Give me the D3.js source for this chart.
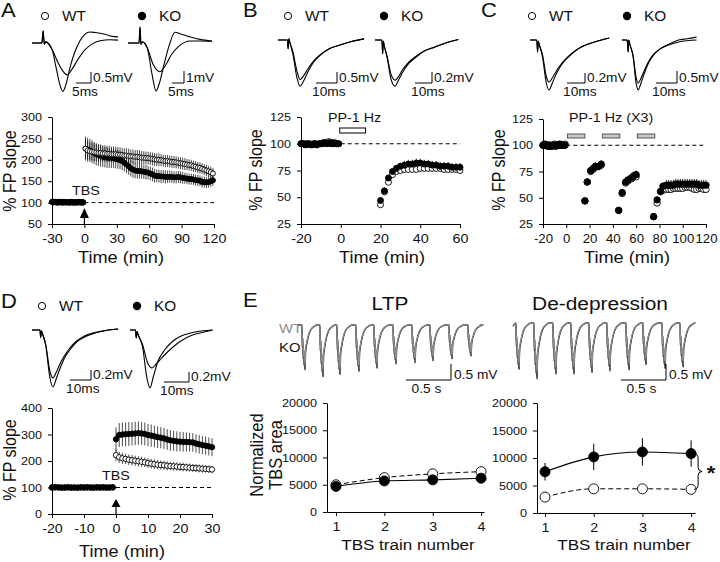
<!DOCTYPE html>
<html><head><meta charset="utf-8">
<script src="https://cdn.jsdelivr.net/npm/d3@7"></script>
<style>
body{margin:0;background:#fff;}
svg text{font-family:"Liberation Sans",Arial,Helvetica,sans-serif;fill:#111;font-weight:normal;}
</style></head><body>
<svg id="fig" width="720" height="562" style="background:#fff"></svg>
<script>
// ---------------- DATA ----------------
// Panel A (LTP, 30 min baseline, TBS at 0)
const aBaseT = [-30,-29,-28,-27,-26,-25,-24,-23,-22,-21,-20,-19,-18,-17,-16,-15,-14,-13,-12,-11,-10,-9,-8,-7,-6,-5,-4,-3,-2,-1];
const aBaseKO = [102,101,102,101,100,101,102,101,101,100,101,102,101,100,101,101,100,101,102,101,100,101,101,100,101,102,101,100,101,100];
const aBaseWT = [101,100,101,102,101,100,100,101,102,101,100,100,101,101,100,101,100,100,101,100,101,100,100,101,100,101,100,101,100,101];
const aPostT = [1,3,5,7,9,11,13,15,17,19,21,23,25,27,29,31,33,35,37,39,41,43,45,47,49,51,53,55,57,59,61,63,65,67,69,71,73,75,77,79,81,83,85,87,89,91,93,95,97,99,101,103,105,107,109,111,113,115,117,119];
const aPostKO = [226,224,222,219,216,213,211,209,207,206,205,204,204,203,202,201,199,197,193,189,185,180,177,175,174,174,173,172,171,170,168,166,163,162,162,161,161,160,160,160,160,159,159,160,159,158,157,156,155,155,154,152,152,151,148,148,147,148,150,152];
const aPostKOerr = [28,28,27,27,26,26,25,25,24,24,24,23,23,22,22,22,21,21,20,20,20,19,19,18,18,18,17,17,17,16,16,16,16,15,15,15,15,15,14,14,14,14,14,14,14,14,13,13,13,13,13,13,13,13,13,13,13,13,13,13];
const aPostWT = [226,222,220,219,218,217,216,216,215,215,214,214,213,213,213,212,212,211,210,210,209,208,208,207,207,206,205,205,204,204,203,202,201,200,200,199,198,197,197,196,195,195,194,193,192,191,190,189,188,187,185,184,182,181,179,177,175,173,171,168];
const aPostWTerr = [22,22,21,21,21,20,20,20,19,19,19,19,18,18,18,18,17,17,17,17,17,16,16,16,16,16,16,15,15,15,15,15,15,15,15,14,14,14,14,14,14,14,14,14,14,14,14,13,13,13,13,13,13,13,13,13,13,13,13,13];
const aXTicks = [-30,0,30,60,90,120];
const aYTicks = [50,100,150,200,250,300];

// Panel B (PP-1 Hz LTD)
const bBaseT = [-20,-19,-18,-17,-16,-15,-14,-13,-12,-11,-10,-9,-8,-7,-6,-5,-4,-3,-2,-1];
const bBaseKO = [100,100,99,100,100,99,99,100,99,100,100,100,101,100,101,100,101,100,100,100];
const bBaseWT = [100,100,100,99,100,99,100,100,99,100,100,101,101,101,102,101,100,101,100,100];
const bPostT = [20,22,24,26,28,30,32,34,36,38,40,42,44,46,48,50,52,54,56,58,60];
const bPostKO = [47,56,68,74,77,79,80,81,81,82,82,81,81,80,80,79,79,79,78,78,78];
const bPostKOerr = [3,3,3,3,3,3,4,4,4,4,4,4,4,4,4,4,4,4,4,4,4];
const bPostWT = [43,55,64,71,74,75,76,76,76,76,77,77,77,77,77,77,76,76,76,76,75];
const bPostWTerr = [2,2,2,2,2,3,3,3,3,3,3,3,3,3,3,3,3,3,3,3,3];
const bStim = [-0.5,12.5];
const bXTicks = [-20,0,20,40,60];
const bYTicks = [25,50,75,100,125];

// Panel C (PP-1 Hz x3)
const cBaseT = [-20,-19,-18,-17,-16,-15,-14,-13,-12,-11,-10,-9,-8,-7,-6,-5,-4,-3,-2,-1];
const cBaseKO = [100,100,101,100,100,99,100,99,100,100,100,99,100,100,101,100,100,100,100,100];
const cBaseWT = [100,101,100,100,99,100,100,100,99,100,101,100,100,100,100,101,100,100,100,101];
const cPostT = [16,18,21,23,25,28,30,45,48,51,53,56,58,60,75,78,81,83,86,88,90,92,94,96,98,100,102,104,106,108,110,112,114,116,118,120];
const cPostKO = [47,65,76,78,80,80,82,38,55,65,67,69,71,72,32,48,56,61,62,62,62,62,63,63,63,63,63,63,63,63,63,63,62,62,62,62];
const cPostKOerr = [2,3,3,3,4,4,4,3,3,3,4,4,4,4,3,3,4,4,5,5,5,5,5,5,5,5,5,5,5,5,5,5,5,5,5,5];
const cPostWT = [47,65,75,77,79,80,81,38,54,64,66,68,70,70,32,45,56,57,58,58,58,59,59,59,59,59,60,60,60,59,58,58,59,59,58,58];
const cPostWTerr = [2,2,3,3,3,3,3,2,3,3,3,3,3,3,2,3,3,3,3,3,3,3,3,3,3,3,3,3,3,3,3,3,3,3,3,3];
const cStimStart = [1,31,61];
const cStimEnd = [16,46,76];
const cXTicks = [-20,0,20,40,60,80,100,120];
const cYTicks = [25,50,75,100,125];

// Panel D (LTP after de-depression)
const dBaseT = [-20,-19,-18,-17,-16,-15,-14,-13,-12,-11,-10,-9,-8,-7,-6,-5,-4,-3,-2,-1];
const dBaseKO = [100,101,100,99,100,101,100,100,99,100,100,101,100,99,100,100,101,100,100,100];
const dBaseWT = [100,100,101,100,100,100,99,100,100,101,100,100,100,100,101,100,100,99,100,101];
const dPostT = [0,1,2,3,4,5,6,7,8,9,10,11,12,13,14,15,16,17,18,19,20,21,22,23,24,25,26,27,28,29,30];
const dPostKO = [282,298,300,301,302,303,304,305,304,302,298,296,293,290,288,285,281,278,276,274,273,272,272,271,270,266,263,260,258,255,252];
const dPostKOerr = [45,45,45,45,45,44,44,44,43,43,42,42,41,41,40,40,39,39,38,38,37,37,36,36,35,35,35,34,34,34,34];
const dPostWT = [222,214,210,208,205,203,201,199,197,195,192,190,188,186,185,184,182,181,180,179,178,177,176,175,174,173,172,171,170,169,168];
const dPostWTerr = [22,21,21,20,20,20,19,19,19,18,18,18,18,17,17,17,17,16,16,16,16,16,15,15,15,15,15,15,14,14,14];
const dXTicks = [-20,-10,0,10,20,30];
const dYTicks = [0,100,200,300,400];

// Panel E (TBS area)
const eTrain = [1,2,3,4];
const ltpWT = [5000,6300,7000,7400];
const ltpWTerr = [600,800,900,900];
const ltpKO = [4700,5700,5900,6200];
const ltpKOerr = [500,700,800,700];
const dedKO = [7500,10200,11100,10800];
const dedKOerr = [1600,2400,2500,2400];
const dedWT = [2900,4400,4400,4300];
const dedWTerr = [300,400,400,400];
const eYTicks = [0,5000,10000,15000,20000];

// Example traces: [time (ms), voltage (mV)]
const trAWT1 = [[0,0],[3.3,0],[3.7,0.55],[4.1,-0.05],[4.6,0.05],[6.7,-0.3],[8,-1.1],[9.3,-1.9],[10.3,-2.2],[11.3,-1.9],[12.7,-1.1],[14.3,-0.4],[16,0.1],[17.7,0.4],[19.3,0.5],[21,0.48],[24.3,0.4],[26.7,0.3],[28.7,0.28]];
const trAWT2 = [[0,0],[3.3,0],[3.7,0.55],[4.1,-0.05],[4.6,0.05],[6.7,-0.3],[8.7,-0.9],[10.7,-1.35],[11.7,-1.45],[13.3,-1.2],[15.3,-0.75],[17.7,-0.3],[20,-0.05],[22.7,0.1],[26,0.15],[28.7,0.13]];
const trAKO1 = [[0,0],[4.6,0],[5,1.33],[5.4,-0.1],[6,0.1],[8,-0.4],[10,-2.6],[11.7,-4.0],[13,-3.4],[15,-1.8],[17,-0.3],[19.6,0.9],[22,0.75],[26,0.5],[30,0.3],[35,0.17]];
const trAKO2 = [[0,0],[4.6,0],[5,1.33],[5.4,-0.1],[6,0.1],[8,-0.4],[10.5,-1.8],[13.3,-2.4],[15.5,-1.9],[18,-1.0],[21,-0.3],[26,0.17],[30,0.17],[35,0.15]];
const trBWT1 = [[0,0],[4.5,0],[4.8,-0.4],[5.2,0.05],[5.6,-0.1],[7,-0.6],[9,-1.7],[10.5,-2.1],[12,-1.9],[14,-1.5],[17,-1.0],[20,-0.7],[24,-0.42],[29.5,-0.23],[35,-0.07],[41,0.05]];
const trBWT2 = [[0,0],[4.5,0],[4.8,-0.4],[5.2,0.05],[5.6,-0.1],[7,-0.5],[9,-1.4],[10.5,-1.8],[12,-1.65],[14,-1.35],[17,-0.95],[20,-0.68],[24,-0.42],[29.5,-0.23],[35,-0.07],[41,0.05]];
const trBKO1 = [[0,0],[3.8,0],[4.2,-0.05],[4.5,-0.25],[4.9,-0.02],[5.4,-0.1],[7,-0.3],[9.5,-0.72],[11.8,-0.84],[13.5,-0.75],[16,-0.6],[20,-0.42],[23.5,-0.33],[29,-0.2],[35,-0.13],[42,-0.05],[49,0.01]];
const trBKO2 = [[0,0],[3.8,0],[4.2,-0.05],[4.5,-0.25],[4.9,-0.02],[5.4,-0.1],[7,-0.28],[9.5,-0.63],[11.8,-0.73],[13.5,-0.68],[16,-0.55],[20,-0.4],[23.5,-0.31],[29,-0.2],[35,-0.13],[42,-0.05],[49,0.01]];
const trCWT1 = [[0,0],[3.6,0],[3.9,-0.05],[4.2,-0.24],[4.6,-0.02],[5.2,-0.1],[7,-0.35],[9,-0.85],[10.6,-1.0],[12.5,-0.85],[15,-0.65],[18,-0.47],[21,-0.35],[25,-0.22],[29,-0.13],[35,-0.05],[44,0.04]];
const trCWT2 = [[0,0],[3.6,0],[3.9,-0.05],[4.2,-0.24],[4.6,-0.02],[5.2,-0.1],[7,-0.3],[9,-0.72],[10.6,-0.84],[12.5,-0.75],[15,-0.6],[18,-0.45],[21,-0.34],[25,-0.22],[29,-0.13],[35,-0.05],[44,0.04]];
const trCKO1 = [[0,0],[2.3,0],[2.6,-0.1],[2.9,-0.5],[3.2,0],[3.8,-0.2],[5.3,-0.7],[6.7,-1.8],[7.7,-2.08],[9,-1.8],[11,-1.3],[13,-0.9],[15,-0.63],[18,-0.38],[21.8,-0.2],[27,0.0],[31,0.05],[35.5,0.12]];
const trCKO2 = [[0,0],[2.3,0],[2.6,-0.1],[2.9,-0.5],[3.2,0],[3.8,-0.2],[5.3,-0.65],[6.7,-1.55],[7.7,-1.8],[9,-1.6],[11,-1.2],[13,-0.85],[15,-0.6],[18,-0.38],[21.8,-0.22],[27,-0.08],[31,-0.03],[35.5,0.0]];
const trDWT1 = [[0,0],[3.8,0],[4.1,-0.15],[4.5,-0.02],[5,-0.08],[6.5,-0.3],[8.5,-0.95],[10,-1.14],[11.5,-0.98],[14,-0.7],[16,-0.52],[18,-0.4],[21,-0.25],[25,-0.14],[30,-0.06],[35,-0.01],[41,0.02]];
const trDWT2 = [[0,0],[3.8,0],[4.1,-0.15],[4.5,-0.02],[5,-0.08],[6.5,-0.28],[8.5,-0.82],[10,-0.96],[11.5,-0.85],[14,-0.62],[16,-0.48],[18,-0.36],[21,-0.23],[25,-0.12],[30,-0.05],[35,-0.01],[41,0.02]];
const trDKO1 = [[0,0],[2.2,0],[2.5,-0.16],[2.8,-0.03],[3.3,-0.1],[5,-0.33],[6.7,-0.94],[8,-1.16],[9.3,-0.94],[11,-0.65],[14,-0.39],[17,-0.23],[20,-0.13],[25,-0.05],[33,0]];
const trDKO2 = [[0,0],[2.2,0],[2.5,-0.16],[2.8,-0.03],[3.3,-0.1],[5,-0.29],[7,-0.65],[8.8,-0.76],[10.5,-0.68],[12.5,-0.57],[14,-0.49],[17,-0.35],[20,-0.23],[25,-0.1],[28,-0.06],[33,0]];

// TBS burst traces (panel E): burst onsets (s), peak amplitudes (mV)
const burstShape = [[0,0],[0.004,-0.5],[0.009,-0.3],[0.014,-0.75],[0.019,-0.55],[0.024,-0.9],[0.029,-0.7],[0.034,-1],[0.04,-0.6],[0.055,-0.4],[0.075,-0.22],[0.1,-0.1],[0.13,-0.04],[0.17,0]];
const ltpOnsets = [0.044,0.244,0.433,0.644,0.844,1.056,1.267,1.467,1.678,1.889];
const ltpAmpKO = [1.40,1.62,1.55,1.45,1.35,1.22,1.18,1.12,1.06,0.97];
const ltpAmpWT = [1.30,1.50,1.45,1.36,1.27,1.15,1.12,1.05,1.00,0.92];
const dedOnsets = [0.033,0.233,0.444,0.644,0.844,1.044,1.256,1.444,1.656,1.856];
const dedAmpKO = [1.45,1.75,1.60,1.60,1.55,1.50,1.47,1.30,1.42,1.38];
const dedAmpWT = [1.35,1.60,1.50,1.48,1.45,1.40,1.36,1.20,1.30,1.28];

// ---------------- DRAWING ----------------
const SX = 1.1;
const FONT = '"Liberation Sans", Arial, Helvetica, sans-serif';
const svg = d3.select("#fig");

function txt(x, y, s, size, o = {}) {
  const t = svg.append("text")
    .attr("transform", `translate(${x},${y}) scale(${SX},1)` + (o.rot ? ` rotate(${o.rot})` : ""))
    .attr("text-anchor", o.anchor || "start")
    .style("font-size", size + "px")
    .text(s);
  if (o.fill) t.style("fill", o.fill);
  if (o.weight) t.style("font-weight", o.weight);
  return t;
}

function drawAxes(xs, ys, xt, yt, xfs, yfs) {
  const xb = ys.range()[0], yl = xs.range()[0];
  const gx = svg.append("g").attr("transform", `translate(0,${xb})`)
    .call(d3.axisBottom(xs).tickValues(xt).tickSize(4).tickSizeOuter(0).tickPadding(6).tickFormat(d => String(d)));
  const gy = svg.append("g").attr("transform", `translate(${yl},0)`)
    .call(d3.axisLeft(ys).tickValues(yt).tickSize(4).tickSizeOuter(0).tickPadding(5).tickFormat(d => String(d)));
  [gx, gy].forEach(g => {
    g.attr("font-family", FONT).attr("font-size", null);
    g.selectAll("path,line").attr("stroke", "#000").attr("stroke-width", 1);
  });
  gx.selectAll("text").attr("transform", `scale(${SX},1)`).style("font-size", xfs + "px");
  gy.selectAll("text").attr("transform", `scale(${SX},1)`).style("font-size", yfs + "px");
}

function errs(xs, ys, T, V, E, w) {
  svg.append("g").selectAll("line").data(T.map((t, i) => [t, V[i], E[i]])).join("line")
    .attr("x1", d => xs(d[0])).attr("x2", d => xs(d[0]))
    .attr("y1", d => ys(d[1] - d[2])).attr("y2", d => ys(d[1] + d[2]))
    .attr("stroke", "#000").attr("stroke-width", w || 0.8);
}
function pts(xs, ys, T, V, r, filled) {
  svg.append("g").selectAll("circle").data(T.map((t, i) => [t, V[i]])).join("circle")
    .attr("cx", d => xs(d[0])).attr("cy", d => ys(d[1])).attr("r", r)
    .attr("fill", filled ? "#000" : "#fff").attr("stroke", "#000").attr("stroke-width", 0.9);
}
function dashed(xs, ys, x0, x1, v) {
  svg.append("line").attr("x1", xs(x0)).attr("x2", xs(x1)).attr("y1", ys(v)).attr("y2", ys(v))
    .attr("stroke", "#000").attr("stroke-width", 1).attr("stroke-dasharray", "4,3");
}
function legend(x1, x2, y) {
  svg.append("circle").attr("cx", x1).attr("cy", y).attr("r", 3.6).attr("fill", "#fff").attr("stroke", "#000").attr("stroke-width", 1);
  txt(x1 + 17, y + 5, "WT", 14);
  svg.append("circle").attr("cx", x2).attr("cy", y).attr("r", 4.2).attr("fill", "#000");
  txt(x2 + 17, y + 5, "KO", 14);
}
function trace(cfg, traces) {
  const x = d3.scaleLinear().domain([0, 1]).range([cfg.ox, cfg.ox + cfg.pxMs]);
  const y = d3.scaleLinear().domain([0, 1]).range([cfg.oy, cfg.oy - cfg.pxMv]);
  const line = d3.line().x(d => x(d[0])).y(d => y(d[1])).curve(d3.curveMonotoneX);
  traces.forEach(tr => svg.append("path").attr("d", line(tr)).attr("fill", "none")
    .attr("stroke", "#000").attr("stroke-width", 1.1));
  const cx = cfg.bx, cy = cfg.by;
  const hx = cfg.barMs * cfg.pxMs, vy = cfg.barMv * cfg.pxMv;
  svg.append("path").attr("d", `M${cx - hx},${cy}H${cx}V${cy - vy}`).attr("fill", "none").attr("stroke", "#000").attr("stroke-width", 1);
  txt(cx + 2, cy - 1, cfg.mvLabel, 12.5);
  txt(cx - hx - 4, cy + 13, cfg.msLabel, 12.5);
}
function arrow(x, tip, base, bottom) {
  svg.append("path").attr("d", `M${x},${tip}L${x - 4.5},${base}L${x + 4.5},${base}Z`).attr("fill", "#000");
  svg.append("line").attr("x1", x).attr("x2", x).attr("y1", base).attr("y2", bottom).attr("stroke", "#000").attr("stroke-width", 1.2);
}

// ===== Panel A =====
txt(1, 17, "A", 20);
legend(45, 142, 16);
trace({ ox: 32, oy: 43, pxMs: 3, pxMv: 22, bx: 91, by: 83, barMs: 5, barMv: 0.5, mvLabel: "0.5mV", msLabel: "5ms" }, [trAWT1, trAWT2]);
trace({ ox: 128, oy: 43, pxMs: 2.4, pxMv: 12, bx: 184, by: 83, barMs: 5, barMv: 1, mvLabel: "1mV", msLabel: "5ms" }, [trAKO1, trAKO2]);
{
  const xs = d3.scaleLinear().domain([-30, 120]).range([52, 214]);
  const ys = d3.scaleLinear().domain([50, 300]).range([224, 117]);
  dashed(xs, ys, 0, 120, 100);
  errs(xs, ys, aPostT, aPostWT, aPostWTerr, 0.7);
  errs(xs, ys, aPostT, aPostKO, aPostKOerr, 0.7);
  pts(xs, ys, aBaseT, aBaseWT, 2.5, false);
  pts(xs, ys, aBaseT, aBaseKO, 2.5, true);
  pts(xs, ys, aPostT, aPostKO, 2.5, true);
  pts(xs, ys, aPostT, aPostWT, 2.5, false);
  drawAxes(xs, ys, aXTicks, aYTicks, 13, 11.5);
  arrow(xs(0), 208, 218, 224);
  txt(86, 195, "TBS", 13, { anchor: "middle" });
  txt(121, 263, "Time (min)", 16.5, { anchor: "middle" });
  txt(16, 171, "% FP slope", 16, { anchor: "middle", rot: -90 });
}

// ===== Panel B =====
txt(243, 17, "B", 20);
legend(288, 384, 16);
trace({ ox: 278, oy: 40, pxMs: 2.1, pxMv: 22, bx: 337, by: 83, barMs: 10, barMv: 0.5, mvLabel: "0.5mV", msLabel: "10ms" }, [trBWT1, trBWT2]);
trace({ ox: 375, oy: 40, pxMs: 1.7, pxMv: 55, bx: 432, by: 83, barMs: 10, barMv: 0.2, mvLabel: "0.2mV", msLabel: "10ms" }, [trBKO1, trBKO2]);
{
  const xs = d3.scaleLinear().domain([-20, 60]).range([301, 460]);
  const ys = d3.scaleLinear().domain([25, 125]).range([224, 117]);
  dashed(xs, ys, 0, 60, 100);
  svg.append("rect").attr("x", xs(bStim[0])).attr("y", 128).attr("width", xs(bStim[1]) - xs(bStim[0])).attr("height", 5)
    .attr("fill", "#fff").attr("stroke", "#000").attr("stroke-width", 1);
  txt(328, 122, "PP-1 Hz", 13);
  errs(xs, ys, bPostT, bPostWT, bPostWTerr, 0.8);
  errs(xs, ys, bPostT, bPostKO, bPostKOerr, 0.8);
  pts(xs, ys, bBaseT, bBaseWT, 3, false);
  pts(xs, ys, bBaseT, bBaseKO, 3, true);
  pts(xs, ys, bPostT, bPostWT, 3, false);
  pts(xs, ys, bPostT, bPostKO, 3, true);
  drawAxes(xs, ys, bXTicks, bYTicks, 13, 11.5);
  txt(382, 263, "Time (min)", 16.5, { anchor: "middle" });
  txt(262, 170, "% FP slope", 16, { anchor: "middle", rot: -90 });
}

// ===== Panel C =====
txt(481, 17, "C", 20);
legend(532, 627, 16);
trace({ ox: 530, oy: 40, pxMs: 1.8, pxMv: 50, bx: 585, by: 83, barMs: 10, barMv: 0.2, mvLabel: "0.2mV", msLabel: "10ms" }, [trCWT1, trCWT2]);
trace({ ox: 622, oy: 40, pxMs: 2.1, pxMv: 24, bx: 677, by: 83, barMs: 10, barMv: 0.5, mvLabel: "0.5mV", msLabel: "10ms" }, [trCKO1, trCKO2]);
{
  const xs = d3.scaleLinear().domain([-20, 120]).range([543, 706]);
  const ys = d3.scaleLinear().domain([25, 125]).range([224, 119]);
  dashed(xs, ys, 0, 120, 100);
  cStimStart.forEach((s, i) => {
    svg.append("rect").attr("x", xs(s)).attr("y", 134).attr("width", xs(cStimEnd[i]) - xs(s)).attr("height", 4)
      .attr("fill", "#c8c8c8").attr("stroke", "#555").attr("stroke-width", 1);
  });
  txt(569, 122, "PP-1 Hz (X3)", 13);
  errs(xs, ys, cPostT, cPostWT, cPostWTerr, 0.8);
  errs(xs, ys, cPostT, cPostKO, cPostKOerr, 0.8);
  pts(xs, ys, cBaseT, cBaseWT, 3.2, false);
  pts(xs, ys, cBaseT, cBaseKO, 3.2, true);
  pts(xs, ys, cPostT, cPostWT, 3.2, false);
  pts(xs, ys, cPostT, cPostKO, 3.2, true);
  drawAxes(xs, ys, cXTicks, cYTicks, 12, 11.5);
  txt(627, 263, "Time (min)", 16.5, { anchor: "middle" });
  txt(505, 170, "% FP slope", 16, { anchor: "middle", rot: -90 });
}

// ===== Panel D =====
txt(1, 308, "D", 20);
legend(42, 137, 306);
trace({ ox: 32, oy: 330, pxMs: 2.1, pxMv: 50, bx: 91, by: 380, barMs: 10, barMv: 0.2, mvLabel: "0.2mV", msLabel: "10ms" }, [trDWT1, trDWT2]);
trace({ ox: 130, oy: 330, pxMs: 2.5, pxMv: 50, bx: 189, by: 382, barMs: 10, barMv: 0.2, mvLabel: "0.2mV", msLabel: "10ms" }, [trDKO1, trDKO2]);
{
  const xs = d3.scaleLinear().domain([-20, 30]).range([52, 212]);
  const ys = d3.scaleLinear().domain([0, 400]).range([514, 408]);
  dashed(xs, ys, 0, 30, 100);
  errs(xs, ys, dPostT, dPostWT, dPostWTerr, 0.7);
  errs(xs, ys, dPostT, dPostKO, dPostKOerr, 0.7);
  pts(xs, ys, dBaseT, dBaseWT, 2.7, false);
  pts(xs, ys, dBaseT, dBaseKO, 2.7, true);
  pts(xs, ys, dPostT, dPostWT, 2.7, false);
  pts(xs, ys, dPostT, dPostKO, 2.7, true);
  drawAxes(xs, ys, dXTicks, dYTicks, 13, 11.5);
  arrow(xs(0), 499, 507, 514);
  txt(116, 480, "TBS", 13, { anchor: "middle" });
  txt(122, 557, "Time (min)", 16.5, { anchor: "middle" });
  txt(16, 460, "% FP slope", 16, { anchor: "middle", rot: -90 });
}

// ===== Panel E =====
txt(243, 307, "E", 20);
txt(390, 310, "LTP", 19, { anchor: "middle" });
txt(600, 310, "De-depression", 19, { anchor: "middle" });
txt(279, 333, "WT", 13.5, { fill: "#8a8a8a" });
txt(279, 352, "KO", 13.5);

function burstTrace(onsets, amps, startV) {
  const out = [[0, startV]];
  onsets.forEach((on, i) => burstShape.forEach(p => out.push([on + p[0], p[1] * amps[i]])));
  out.push([2.02, 0]);
  return out;
}
function burstPanel(ox, oy, onsets, ampKO, ampWT, startV, bx) {
  const x = d3.scaleLinear().domain([0, 1]).range([ox, ox + 90]);
  const y = d3.scaleLinear().domain([0, 1]).range([oy, oy - 32]);
  const line = d3.line().x(d => x(d[0])).y(d => y(d[1])).curve(d3.curveMonotoneX);
  svg.append("path").attr("d", line(burstTrace(onsets, ampKO, startV))).attr("fill", "none").attr("stroke", "#000").attr("stroke-width", 1.4);
  svg.append("path").attr("d", line(burstTrace(onsets, ampWT, startV))).attr("fill", "none").attr("stroke", "#8c8c8c").attr("stroke-width", 1.3);
  const by = 380;
  svg.append("path").attr("d", `M${bx - 0.5 * 90},${by}H${bx}V${by - 0.5 * 32}`).attr("fill", "none").attr("stroke", "#000").attr("stroke-width", 1);
  txt(bx + 3, by - 1, "0.5 mV", 12.5);
  txt(bx - 0.25 * 90 - 2, by + 13, "0.5 s", 12.5, { anchor: "middle" });
}
burstPanel(298, 325, ltpOnsets, ltpAmpKO, ltpAmpWT, 0, 451);
burstPanel(513, 323, dedOnsets, dedAmpKO, dedAmpWT, -0.1, 666);

function trainPlot(xs, ys, WT, WTe, KO, KOe) {
  const line = d3.line().x((d, i) => xs(eTrain[i])).y(d => ys(d)).curve(d3.curveMonotoneX);
  svg.append("path").attr("d", line(WT)).attr("fill", "none").attr("stroke", "#000").attr("stroke-width", 1).attr("stroke-dasharray", "5,3");
  svg.append("path").attr("d", line(KO)).attr("fill", "none").attr("stroke", "#000").attr("stroke-width", 1.1);
  errs(xs, ys, eTrain, WT, WTe, 1);
  errs(xs, ys, eTrain, KO, KOe, 1);
  pts(xs, ys, eTrain, WT, 5, false);
  pts(xs, ys, eTrain, KO, 5, true);
}
{
  const xs = d3.scaleLinear().domain([0.814, 4.06]).range([327, 484]);
  const ys = d3.scaleLinear().domain([0, 20000]).range([512, 403]);
  trainPlot(xs, ys, ltpWT, ltpWTerr, ltpKO, ltpKOerr);
  drawAxes(xs, ys, eTrain, eYTicks, 13, 11.5);
  txt(408, 550, "TBS train number", 15.5, { anchor: "middle" });
  txt(263, 455, "Normalized", 16.5, { anchor: "middle", rot: -90 });
  txt(282, 455, "TBS area", 16.5, { anchor: "middle", rot: -90 });
}
{
  const xs = d3.scaleLinear().domain([0.835, 4.08]).range([537, 695]);
  const ys = d3.scaleLinear().domain([0, 20000]).range([513, 403]);
  trainPlot(xs, ys, dedWT, dedWTerr, dedKO, dedKOerr);
  drawAxes(xs, ys, eTrain, eYTicks, 13, 11.5);
  txt(624, 550, "TBS train number", 15.5, { anchor: "middle" });
  const bxr = xs(4) + 7;
  const y1 = ys(dedKO[3]), y2 = ys(dedWT[3]), ym = (y1 + y2) / 2;
  svg.append("path").attr("d",
    `M${bxr - 4},${y1}Q${bxr},${y1} ${bxr},${y1 + 5}L${bxr},${ym - 4}Q${bxr},${ym} ${bxr + 4},${ym}Q${bxr},${ym} ${bxr},${ym + 4}L${bxr},${y2 - 5}Q${bxr},${y2} ${bxr - 4},${y2}`)
    .attr("fill", "none").attr("stroke", "#000").attr("stroke-width", 1);
  txt(bxr + 13, ym + 9, "*", 20, { anchor: "middle", weight: "bold" });
}
</script>
</body></html>
